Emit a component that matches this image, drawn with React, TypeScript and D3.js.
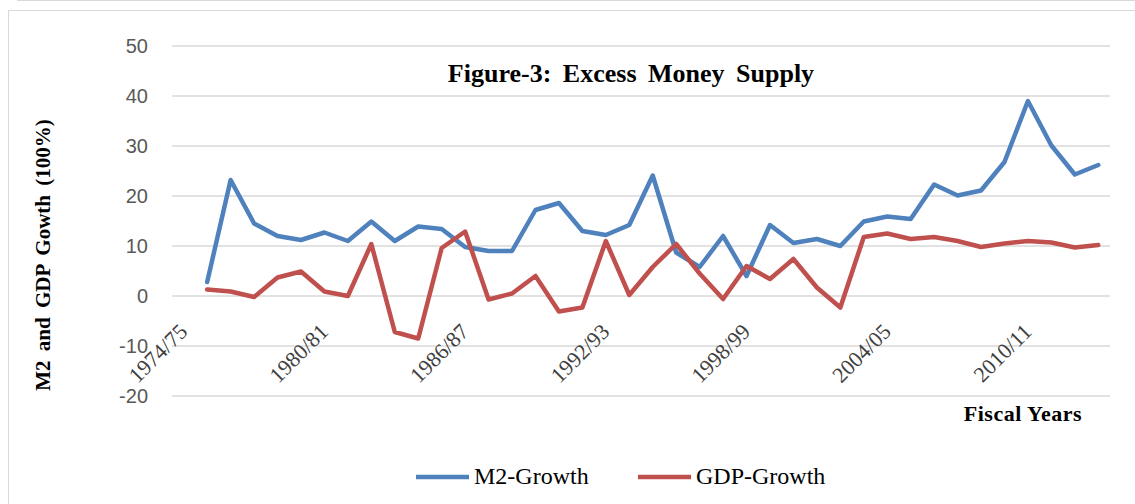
import React from 'react';
import * as d3 from 'd3';

// fiscal years shown on the category axis (first one has no data)
const years = [
  '1974/75', '1975/76', '1976/77', '1977/78', '1978/79', '1979/80', '1980/81', '1981/82',
  '1982/83', '1983/84', '1984/85', '1985/86', '1986/87', '1987/88', '1988/89', '1989/90',
  '1990/91', '1991/92', '1992/93', '1993/94', '1994/95', '1995/96', '1996/97', '1997/98',
  '1998/99', '1999/00', '2000/01', '2001/02', '2002/03', '2003/04', '2004/05', '2005/06',
  '2006/07', '2007/08', '2008/09', '2009/10', '2010/11', '2011/12', '2012/13', '2013/14'
];

const m2Growth = [
  null, 2.8, 23.2, 14.5, 12.0, 11.2, 12.7, 11.0, 14.9, 11.0, 13.9, 13.4, 9.8, 9.0, 9.0, 17.2,
  18.6, 13.0, 12.2, 14.2, 24.1, 8.7, 5.8, 12.0, 4.0, 14.2, 10.6, 11.4, 10.0, 14.9, 15.9, 15.4,
  22.3, 20.1, 21.1, 26.8, 39.0, 30.1, 24.3, 26.2
];

const gdpGrowth = [
  null, 1.3, 0.9, -0.2, 3.7, 4.9, 0.9, 0.0, 10.4, -7.2, -8.5, 9.6, 12.9, -0.7, 0.5, 4.0,
  -3.1, -2.3, 11.0, 0.2, 5.8, 10.4, 4.5, -0.6, 6.0, 3.4, 7.4, 1.7, -2.3, 11.8, 12.5, 11.4,
  11.8, 11.0, 9.8, 10.5, 11.0, 10.7, 9.7, 10.2
];

const yTicks = [-20, -10, 0, 10, 20, 30, 40, 50];
const xTickLabels = ['1974/75', '1980/81', '1986/87', '1992/93', '1998/99', '2004/05', '2010/11'];

const seriesNames = ['M2-Growth', 'GDP-Growth'];
const seriesColors = ['#4f81bd', '#c0504d'];

const W = 1135;
const H = 504;
const plot = { left: 172, right: 1110, top: 46, bottom: 396 };

export default function App() {
  const x = d3.scaleBand<string>().domain(years).range([plot.left, plot.right]);
  const cx = (c: string) => (x(c) as number) + x.bandwidth() / 2;
  const y = d3.scaleLinear().domain([-20, 50]).range([plot.bottom, plot.top]);

  const line = d3.line<number | null>()
    .defined(d => d !== null)
    .x((_, i) => cx(years[i]))
    .y(d => y(d as number));

  const series = [m2Growth, gdpGrowth];
  const serif = '"Liberation Serif", "Times New Roman", serif';

  return (
    <svg width={W} height={H} style={{ position: 'absolute', left: 0, top: 0, background: '#fff' }}>
      <line x1={17} x2={W} y1={0.5} y2={0.5} stroke="#d9d9d9" />
      <rect x={8.5} y={10.5} width={W} height={H} fill="none" stroke="#d9d9d9" />

      {/* gridlines and y ticks */}
      {yTicks.map(t => (
        <g key={t}>
          <line x1={plot.left} x2={plot.right} y1={y(t)} y2={y(t)} stroke="#d9d9d9" strokeWidth={1.5} />
          <text x={148} y={y(t)} dy="0.35em" textAnchor="end" fontFamily="Liberation Sans, Arial, sans-serif"
            fontSize={20} fill="#595959">{t}</text>
        </g>
      ))}

      {/* x tick labels */}
      {xTickLabels.map(l => (
        <text key={l} transform={`translate(${cx(l) + 5},333) rotate(-45)`} textAnchor="end"
          fontFamily={serif} fontSize={22} fill="#404040">{l}</text>
      ))}

      {/* lines */}
      {series.map((s, i) => (
        <path key={seriesNames[i]} d={line(s) || ''} fill="none" stroke={seriesColors[i]}
          strokeWidth={4.5} strokeLinejoin="round" strokeLinecap="round" />
      ))}

      {/* title */}
      <text x={631} y={82} textAnchor="middle" fontFamily={serif} fontWeight="bold" fontSize={26}
        wordSpacing={5} fill="#000">Figure-3: Excess Money Supply</text>

      {/* axis titles */}
      <text transform="translate(50,255) rotate(-90)" textAnchor="middle" fontFamily={serif}
        fontWeight="bold" fontSize={21} wordSpacing={4} fill="#000">M2 and GDP Gowth (100%)</text>
      <text x={1082} y={421} textAnchor="end" fontFamily={serif} fontWeight="bold" fontSize={22}
        letterSpacing={0.5} fill="#000">Fiscal Years</text>

      {/* legend */}
      {seriesNames.map((n, i) => {
        const lx = [416, 638][i];
        return (
          <g key={n}>
            <line x1={lx} x2={lx + 53} y1={477} y2={477} stroke={seriesColors[i]} strokeWidth={4.5} />
            <text x={lx + 58} y={484} fontFamily={serif} fontSize={24} fill="#000">{n}</text>
          </g>
        );
      })}
    </svg>
  );
}
